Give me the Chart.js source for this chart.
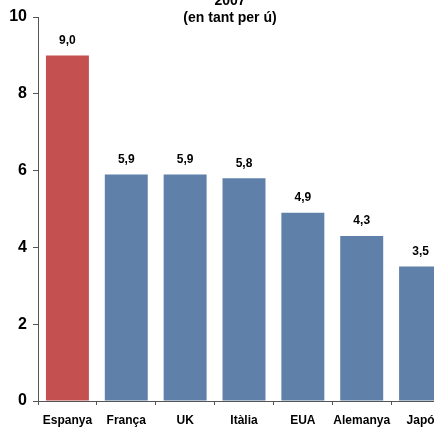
<!DOCTYPE html>
<html>
<head>
<meta charset="utf-8">
<script src="https://cdn.jsdelivr.net/npm/chart.js@4"></script>
<style>
  html, body { margin: 0; padding: 0; background: #fff; overflow: hidden; width: 434px; height: 431px; }
  #wrap { position: absolute; left: 0; top: -14px; width: 470px; height: 447px; }
</style>
</head>
<body>
<div id="wrap"><canvas id="myChart" width="470" height="447"></canvas></div>
<script>
// Dades
const paisos = ['Espanya', 'França', 'UK', 'Itàlia', 'EUA', 'Alemanya', 'Japó'];
const valors = [9.0, 5.9, 5.9, 5.8, 4.9, 4.3, 3.5];
const titol = ['2007', '(en tant per ú)'];

const colorEspanya = '#C4504F';
const colorAltres = '#5F80A9';
const font = "'Liberation Sans', Arial, sans-serif";

// Etiquetes de valor damunt de cada barra
const etiquetes = {
    id: 'etiquetes',
    afterDatasetsDraw(chart) {
        const c = chart.ctx;
        const meta = chart.getDatasetMeta(0);
        c.save();
        c.font = 'bold 12px ' + font;
        c.fillStyle = '#000';
        c.textAlign = 'center';
        c.textBaseline = 'middle';
        meta.data.forEach((bar, i) => {
            c.fillText(valors[i].toFixed(1).replace('.', ','), bar.x, bar.y - 15);
        });
        c.restore();
    }
};

// Títol dibuixat a mà perquè es solapa amb l'àrea del gràfic
const titolPlugin = {
    id: 'titolPlugin',
    afterDraw(chart) {
        const c = chart.ctx;
        c.save();
        c.font = 'bold 14px ' + font;
        c.fillStyle = '#000';
        c.textAlign = 'center';
        c.textBaseline = 'middle';
        titol.forEach((t, i) => c.fillText(t, 230, 15 + i * 17));
        c.restore();
    }
};

const ctx = document.getElementById('myChart').getContext('2d');
const myChart = new Chart(ctx, {
    type: 'bar',
    data: {
        labels: paisos,
        datasets: [{
            data: valors,
            backgroundColor: paisos.map((p, i) => i === 0 ? colorEspanya : colorAltres),
            categoryPercentage: 1,
            barPercentage: 0.73
        }]
    },
    options: {
        responsive: false,
        animation: false,
        layout: { padding: { top: 31, right: 20, bottom: 0, left: 0 } },
        plugins: { legend: { display: false }, tooltip: { enabled: false } },
        scales: {
            y: {
                min: 0,
                max: 10,
                ticks: { stepSize: 2, color: '#000', padding: 6, font: { family: font, size: 16, weight: 'bold' } },
                grid: { drawOnChartArea: false, tickLength: 5, color: '#555' },
                border: { color: '#555', width: 1 },
                afterFit: s => { s.width = 38; }
            },
            x: {
                ticks: { color: '#000', padding: 8, maxRotation: 0, minRotation: 0, autoSkip: false, font: { family: font, size: 12, weight: 'bold' } },
                grid: { drawOnChartArea: false, tickLength: 4, color: '#555', offset: true },
                border: { color: '#555', width: 1 },
                afterFit: s => { s.height = 32; }
            }
        }
    },
    plugins: [etiquetes, titolPlugin]
});
</script>
</body>
</html>
